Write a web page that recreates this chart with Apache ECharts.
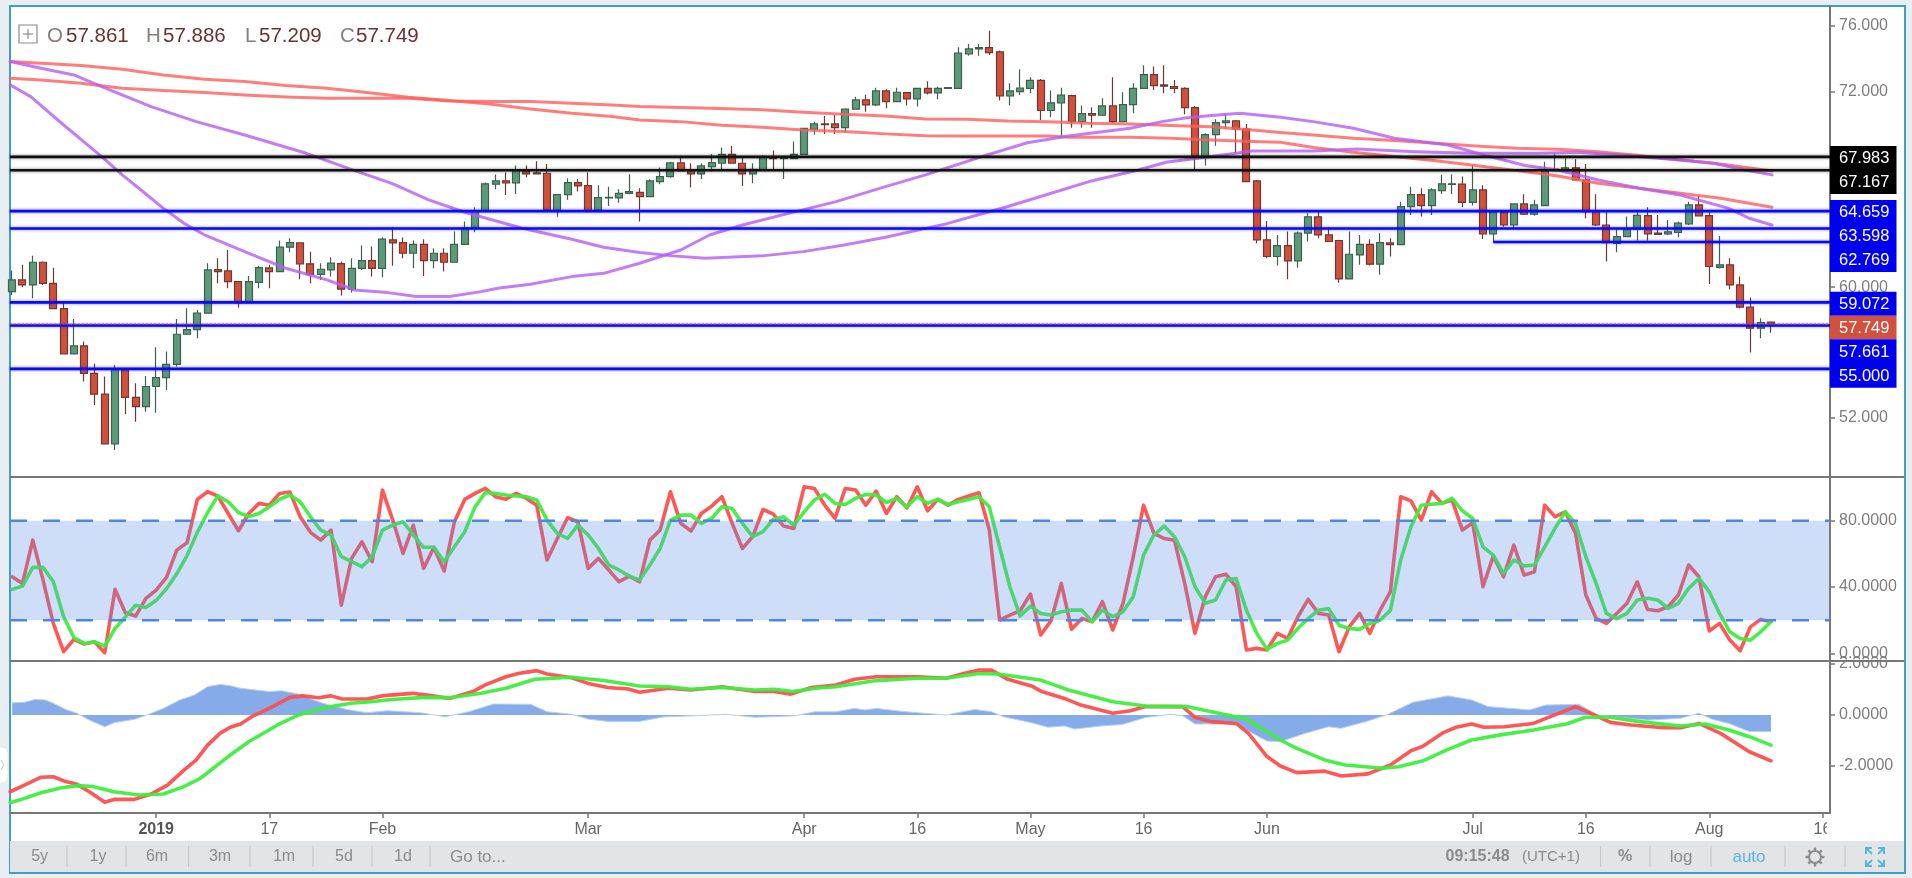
<!DOCTYPE html>
<html>
<head>
<meta charset="utf-8">
<style>html,body{margin:0;padding:0;background:#e9eef2;overflow:hidden}#c{width:1912px;height:878px}</style>
<script src="https://cdn.jsdelivr.net/npm/echarts@6/dist/echarts.min.js"></script>
</head>
<body>
<div id="c"></div>
<script>
const opens=[59.73,60.45,60.14,61.53,60.24,58.69,55.92,56.41,54.73,53.45,
50.41,54.94,53.26,52.69,53.92,54.47,55.28,57.12,57.41,58.41,
61.08,61.0,60.34,59.06,60.3,61.18,60.96,62.45,62.71,61.43,
60.79,61.06,61.45,59.88,61.16,61.63,61.16,62.9,62.73,62.08,
62.63,61.63,62.08,61.53,62.63,63.63,64.65,66.31,66.51,66.39,
67.1,67.0,66.98,64.73,65.67,66.41,66.22,64.73,65.47,65.47,
65.75,65.81,65.55,66.47,66.77,67.61,67.12,66.94,67.39,67.59,
68.14,67.59,66.94,67.18,67.96,67.88,67.88,68.14,69.67,70.0,
70.0,69.77,70.9,71.47,71.16,72.02,71.37,71.92,71.53,72.18,
71.9,72.18,72.18,74.29,74.59,74.67,74.41,71.71,71.98,72.18,
72.67,70.82,71.29,71.73,70.14,70.63,70.53,71.1,70.14,71.18,
72.18,73.02,72.39,72.29,72.18,71.0,68.0,69.35,70.08,70.18,
69.69,66.51,62.9,61.88,62.55,61.61,63.31,64.31,63.2,62.86,
60.51,61.98,62.63,61.41,62.71,62.61,64.94,65.67,65.0,65.92,
66.29,66.31,65.2,65.96,63.27,64.59,63.81,65.1,64.47,65.0,
67.14,67.14,67.31,66.57,64.67,63.81,62.69,63.1,63.55,64.38,
63.31,63.27,63.35,63.88,65.04,64.39,61.22,61.37,60.14,58.78,
57.49,57.861];
const closes=[60.45,60.14,61.53,60.24,58.69,55.92,56.41,54.73,53.45,50.41,
54.98,53.26,52.69,53.92,54.47,55.28,57.12,57.41,58.41,61.06,
60.96,60.34,59.06,60.34,61.2,60.96,62.45,62.73,61.43,60.79,
61.1,61.47,59.88,61.16,61.63,61.16,62.94,62.71,62.08,62.63,
61.63,62.08,61.53,62.63,63.63,64.65,66.33,66.51,66.39,67.16,
66.94,66.94,64.73,65.67,66.41,66.2,64.69,65.49,65.51,65.75,
65.86,65.55,66.51,66.77,67.61,67.12,66.94,67.43,67.63,68.14,
67.59,66.94,67.22,68.0,67.88,67.92,68.14,69.73,70.0,69.96,
69.77,70.9,71.47,71.16,72.02,71.37,71.94,71.53,72.18,71.9,
72.18,72.22,74.33,74.59,74.67,74.37,71.71,72.02,72.2,72.67,
70.82,71.29,71.76,70.14,70.63,70.53,71.1,70.14,71.18,72.18,
73.02,72.35,72.31,72.18,71.0,68.0,69.35,70.08,70.18,69.69,
66.47,62.9,61.88,62.55,61.61,63.31,64.31,63.2,62.8,60.51,
62.02,62.63,61.41,62.73,62.61,64.94,65.67,65.0,65.96,66.33,
66.33,65.2,65.96,63.27,64.59,63.81,65.1,64.47,65.04,67.14,
67.22,67.31,66.57,64.63,63.81,62.73,63.1,63.57,64.4,63.27,
63.24,63.39,63.92,65.04,64.37,61.27,61.37,60.14,58.78,57.49,
57.84,57.749];
const lows=[59.53,60.0,59.32,60.14,58.65,55.92,55.92,54.22,52.79,50.41,
50.04,52.24,51.77,52.38,52.32,53.71,55.14,57.08,56.88,58.41,
60.24,59.94,58.75,59.06,59.94,59.94,60.96,62.14,60.49,60.24,
60.45,60.65,59.49,59.67,61.06,60.65,60.61,61.32,61.77,61.16,
60.69,61.16,60.96,61.53,62.63,63.37,64.59,66.0,65.65,65.71,
66.73,66.94,64.63,64.32,65.35,65.86,64.57,64.63,64.98,65.18,
65.69,64.02,65.55,66.3,66.71,67.08,66.1,66.63,67.08,67.24,
67.59,66.2,66.37,67.18,67.22,66.63,67.88,68.14,69.33,69.39,
69.39,69.47,70.9,70.75,71.1,70.96,71.37,71.12,71.06,71.8,
71.51,72.16,72.18,74.18,74.18,74.22,71.43,71.14,71.77,71.88,
70.24,70.41,69.22,69.77,69.77,69.77,70.49,70.04,70.14,70.65,
72.18,72.08,71.88,71.88,70.59,67.22,67.45,68.67,69.67,68.24,
66.47,62.69,61.77,61.33,60.49,61.2,62.8,63.0,62.8,60.28,
60.51,61.37,61.33,60.76,61.88,62.61,64.43,64.33,64.43,65.71,
65.71,64.9,65.0,62.96,62.8,63.71,63.57,64.43,64.37,65.0,
67.08,67.08,66.53,64.22,63.75,61.57,62.14,63.06,62.86,62.86,
63.24,63.2,63.06,63.81,64.33,60.2,61.14,59.88,58.71,56.0,
56.88,57.209];
const highs=[61.02,61.37,61.92,61.57,61.2,59.12,58.06,56.67,55.31,54.53,
55.24,55.04,54.12,54.57,56.32,56.06,58.06,58.71,58.61,61.47,
61.77,62.28,60.38,60.69,61.32,61.37,62.86,63.0,62.73,62.18,
61.47,61.84,61.57,61.77,62.55,62.49,63.06,63.65,63.04,62.86,
62.94,62.39,62.39,63.41,64.02,64.9,66.41,66.9,67.02,67.45,
67.45,67.71,67.55,65.67,66.67,66.63,67.02,66.24,66.16,66.0,
66.92,66.06,66.61,67.33,67.69,68.0,67.59,67.59,68.16,68.55,
68.65,68.0,67.59,68.1,68.37,68.0,68.92,69.77,70.14,70.49,
70.55,70.96,71.67,71.78,72.22,72.12,72.22,71.92,72.22,72.61,
72.28,72.24,74.69,74.9,74.9,75.71,74.49,72.49,73.35,72.86,
72.75,72.04,72.22,71.78,71.12,71.02,71.57,72.86,71.94,72.49,
73.59,73.51,73.59,72.69,72.24,71.1,69.43,70.29,70.65,70.24,
70.0,66.57,64.06,63.2,63.41,63.41,64.53,64.69,63.65,62.9,
63.41,63.2,62.94,63.31,63.0,65.24,66.16,66.06,66.06,66.88,
66.92,66.78,67.49,66.24,64.69,64.73,65.1,65.69,65.35,67.69,
68.2,67.9,67.84,67.55,65.69,64.73,63.61,64.33,64.73,64.9,
64.43,64.12,64.02,65.24,65.59,64.73,63.14,61.77,60.65,59.37,
58.1,57.886];

const rsiFast=[46.2,42.2,68.3,44.2,18.1,1,8.4,5.6,7,0.4,38.6,24.5,22.5,33.2,38.2,45.8,62.3,66.7,92.9,97.5,
94.9,84.4,74,84.4,90.5,89.4,96.5,97.3,82.4,73,68.3,74.4,29.1,57.3,67.3,55.3,98.5,80.4,60.3,77.4,
51.3,63.9,49.6,79.4,92.9,96.5,99.5,94.5,93,96.5,93.5,89.4,56.3,69.3,81.8,79.4,51.3,57.3,50.3,43.2,
46.6,43.2,68.3,74.4,97.5,78.4,73.8,84.4,88.8,94.5,78.4,63.3,70.4,86.8,84,76.8,75.4,100.5,99.5,89.4,
81.4,99.5,98.5,89.4,97.9,84.4,94.5,87.8,100.5,86,92.9,89.4,92.9,94.9,96.9,74.4,20.1,23.1,25.7,35.8,
11.1,19.7,42.2,14.5,21.1,19.1,31.2,14.1,30.2,58.3,89.4,72.4,69.3,68.3,42.2,12.1,34.2,46.2,47.8,40.2,
2,3,2,12,9,22,32.6,24.1,23.1,1,16,24.1,12.1,26.1,37.2,94.5,92,80.4,97.5,90.5,
92.5,74.4,78.8,40.2,58.7,46.2,65.3,47.2,49.2,89.4,82.4,85.4,72.4,35.2,21.1,18.1,24.1,30.2,43.2,26.5,
25.7,28.1,35.2,53.3,46.2,13.5,18.1,8,1.6,16,20.5,19.1];
const rsiSlow=[38.6,40.6,51.9,51.9,43.2,22.1,9.6,6,7,4.4,15,22,29,27.7,32,39,48,59,73,85,
95,91.5,85,82.5,84.4,88.4,93,95.5,91.5,82.4,74.4,71.4,58.3,55.3,52.3,58.3,74.4,77.4,79.4,71.4,
64,64,55.3,64.3,73.4,88.4,97,96.5,95.5,95,94.5,92.5,80.4,72.4,69.3,77.4,71.4,63.3,53.3,50.3,
46.6,44.2,53.3,63.3,80.4,83.4,83.4,78.4,81.4,88.4,87.4,78.4,70.4,73.4,80.8,82.4,77.4,85.4,92.5,96,
90.5,89.8,93.5,95.9,95.5,91,93.5,88.4,94.5,90.5,92.9,89.8,91.5,92.9,94.5,88.4,64.3,40.2,22.5,28.5,
24.1,23.1,25.1,26.1,26.1,19.1,26.1,22.1,25.1,34.2,59.3,71.4,76.8,70.4,58.3,40.2,30.2,32.2,44.2,45.2,
26.1,12.1,2.4,6,8,15,21,26,27,17,15,14.5,18,20,26,56.3,76.4,89.4,90,90.5,
93.5,86,81.4,64.3,59.3,48.2,56.3,52.7,53.3,64.3,75.4,85.4,78.4,58.3,42.2,24.1,21,24.1,32.2,33.2,
32.2,27.1,30.2,39.2,45.2,37.2,24.1,13,9,8,13,19.1];

const macdFast=[[-0.2,-3.01],[1.2,-2.75],[2.8,-2.44],[4,-2.42],[5.2,-2.61],[6.3,-2.72],[7.5,-3.01],[9,-3.42],[9.9,-3.31],[11.9,-3.31],[13.5,-3.10],[15.1,-2.75],[16.7,-2.16],[17.9,-1.76],[19,-1.18],[20.2,-0.72],[21.2,-0.48],[22.2,-0.35],[23.4,-0.04],[25,0.26],[27,0.69],[28.2,0.75],[29.8,0.68],[31,0.75],[32.1,0.63],[34.5,0.63],[36.1,0.76],[38.9,0.85],[40.9,0.75],[42.5,0.65],[44.8,0.92],[46,1.18],[48,1.5],[49.2,1.63],[51,1.74],[52,1.61],[54.4,1.46],[56,1.24],[57.9,1.08],[59.9,1.02],[61,0.89],
[63.8,1.05],[66,0.98],[69,1.11],[72.2,0.92],[74.1,0.92],[75.7,0.82],[77.7,1.08],[80.1,1.18],[81.9,1.40],[84,1.50],[88,1.50],[90.8,1.44],[92.8,1.66],[94,1.76],[95.2,1.76],[96.8,1.40],[99.1,1.14],[100.1,0.92],[102.3,0.65],[103.9,0.39],[107,0.07],[108.7,0.17],[110.2,0.33],[113.8,0.33],[115,-0.09],[116.6,-0.26],[119,-0.33],[120.2,-0.72],[122,-1.63],[123.3,-2.0],
[124.9,-2.26],[127.6,-2.2],[129.2,-2.39],[131.8,-2.31],[134,-1.96],[136,-1.40],[137.2,-1.22],[139.2,-0.68],[140.4,-0.48],[141.9,-0.35],[143.1,-0.48],[145.1,-0.46],[147.9,-0.33],[152,0.33],[155.4,-0.29],[157.4,-0.39],[160.6,-0.50],[162.2,-0.50],[164,-0.33],[166.1,-0.72],[168.9,-1.44],[171,-1.80]];
const macdSlow=[[-0.2,-3.44],[1.2,-3.27],[2.8,-3.05],[4.8,-2.85],[6.3,-2.77],[7.9,-2.81],[9.9,-3.01],[12.3,-3.14],[14.7,-3.10],[16.7,-2.81],[18.3,-2.48],[21,-1.63],[23,-1.05],[25.8,-0.39],[27.8,0],[30.6,0.30],[32.9,0.46],[34.9,0.52],[36.9,0.61],[40.1,0.69],[42.5,0.68],[45.6,0.85],[48,1.05],[50.8,1.40],[54.4,1.48],[57.5,1.35],[61,1.14],
[63.8,1.11],[66,1.01],[69,1.08],[72.2,0.98],[74.1,1.01],[75.9,0.92],[78.1,1.05],[80.1,1.11],[84,1.35],[88,1.44],[90.8,1.44],[94,1.63],[95.8,1.61],[100,1.37],[102.7,0.98],[107,0.52],[110.2,0.35],[114.2,0.33],[116.6,0.13],[120,-0.16],[123.3,-0.98],
[124.9,-1.31],[127.6,-1.76],[129.6,-1.96],[133.2,-2.09],[134.8,-2.03],[137.2,-1.79],[139.6,-1.35],[141.9,-0.98],[144.7,-0.78],[147.9,-0.59],[151.1,-0.35],[153,-0.09],[155.4,-0.09],[158.2,-0.26],[162.2,-0.43],[164.6,-0.35],[166.9,-0.59],[168.9,-0.85],[171,-1.18]];
const macdHist=[[0,0.48],[1.2,0.50],[2.2,0.61],[3.2,0.59],[4,0.46],[5.2,0.22],[6.3,0.07],[7.5,-0.20],[9,-0.46],[9.9,-0.30],[11.9,-0.17],[13.1,0],[14.7,0.26],[16.3,0.59],[17.7,0.78],[19,1.11],[20.2,1.20],[21.2,1.15],[22.2,1.05],[25,0.92],[26.2,0.95],[27.8,0.82],[30.2,0.46],[32.5,0.22],[34.5,0.09],[36.5,0.17],[39.7,0.09],[42.1,-0.07],[44.4,0.13],[46.8,0.43],[50.4,0.42],[52,0.13],[54.4,0.03],[56,-0.16],[57.9,-0.25],[61,-0.25],
[63.4,-0.07],[66.2,-0.03],[69.4,0.03],[72.2,-0.09],[76.1,-0.03],[78.1,0.13],[80.1,0.13],[81.9,0.26],[82.9,0.20],[84,0.26],[86.8,0.13],[90.8,0],[93.6,0.22],[95.2,0.13],[96.4,-0.07],[99.1,-0.30],[100.7,-0.48],[102.3,-0.43],[103.3,-0.55],[105.9,-0.43],[107.9,-0.37],[110.2,-0.10],[112.6,0.03],[113.8,-0.03],[115,-0.35],[119,-0.35],[120.6,-0.72],[122,-1.02],[123.3,-1.05],
[125.7,-0.72],[128,-0.46],[129.2,-0.52],[131.6,-0.26],[133.6,0],[136.2,0.50],[139.6,0.75],[141.9,0.59],[143.5,0.33],[146.3,0.24],[147.5,0.20],[149.1,0.39],[152.3,0.42],[154.2,0],[159,-0.20],[162.2,-0.13],[164,0.07],[165.3,-0.17],[166.9,-0.33],[168.9,-0.65],[171,-0.65]];

const redMaA=[[-0.2,73.82],[2.8,73.71],[6.7,73.57],[10.7,73.35],[14.7,73.0],[18.7,72.73],[22.6,72.59],[26.6,72.35],[30.6,72.18],[34.5,71.92],[38.5,71.63],[42.5,71.43],[46.4,71.22],[50.4,70.92],[54.4,70.65],[58.3,70.45],[61,70.24],[65,70.14],[69,69.92],[72.9,69.79],[76.9,69.63],[80.9,69.53],[84.9,69.39],[88.8,69.28],[92.8,69.26],[96.8,69.26],[100.7,69.26],[102.7,69.18],[108.7,69.18],[112.6,69.12],[116.6,69.02],[120.6,68.92],[123.3,68.88],[126.5,68.55],[130.4,68.26],[134.4,68.0],[138.4,67.75],[142.3,67.45],[146.3,67.14],[150.3,66.81],[154.2,66.37],[158.2,66.06],[162.2,65.75],[166.1,65.45],[171.1,64.9]];
const redMaB=[[-0.2,72.79],[2.8,72.69],[6.7,72.49],[10.7,72.18],[14.7,72.04],[18.7,71.92],[22.6,71.77],[26.6,71.65],[30.6,71.57],[34.5,71.57],[38.5,71.57],[42.5,71.41],[46.4,71.37],[50.4,71.37],[54.4,71.26],[58.3,71.16],[61,71.06],[67,70.98],[72.9,70.86],[76.9,70.71],[80.9,70.59],[84.9,70.49],[88.8,70.3],[92.8,70.28],[96.8,70.18],[100.7,70.14],[104.7,70.04],[108.7,70.0],[112.6,69.9],[116.6,69.83],[120.6,69.63],[123.3,69.47],[126.5,69.32],[130.4,69.12],[134.4,68.98],[138.4,68.81],[142.3,68.65],[146.3,68.51],[150.3,68.45],[154.2,68.3],[158.2,68.06],[162.2,67.79],[166.1,67.55],[171.1,67.12]];
const purpleMaA=[[-0.2,72.39],[1.8,71.67],[4.8,70.04],[8.7,68.0],[10.7,66.88],[12.7,65.86],[14.7,64.83],[16.7,63.92],[18.7,63.2],[22.6,62.18],[26.6,61.16],[30.6,60.45],[33.3,59.83],[36.5,59.67],[39.3,59.43],[42.5,59.43],[45.6,59.73],[47.2,59.94],[50.4,60.18],[54.4,60.65],[57.5,60.85],[61,61.47],[65,62.28],[67.8,63.2],[71,63.81],[74.9,64.43],[80.1,65.24],[84.9,66.16],[88.8,66.88],[94.8,68.1],[98.7,68.85],[102.7,69.26],[108.7,69.73],[111.8,70.14],[113.8,70.34],[116.6,70.51],[119.4,70.65],[123.3,70.41],[126.5,70.14],[130.4,69.73],[134.4,69.12],[139.6,68.71],[143.1,68.1],[147.1,67.45],[150.3,67.18],[154.2,66.57],[158.2,66.06],[162.2,65.65],[166.9,64.83],[168.9,64.22],[171.1,63.81]];
const purpleMaB=[[-0.2,73.82],[2.8,73.41],[6,73.0],[8.7,72.28],[13.5,71.06],[17.9,70.14],[22.6,69.32],[28.6,68.2],[33.3,67.14],[36.9,66.36],[40.5,65.35],[44,64.59],[49.6,63.61],[54.4,62.94],[57.5,62.45],[61,62.12],[64.2,61.92],[67.4,61.77],[72.9,61.92],[76.9,62.18],[80.9,62.59],[84.9,63.06],[90.8,63.88],[96.8,64.94],[100.7,65.69],[104.7,66.47],[109.5,67.18],[112.2,67.65],[116.6,68.0],[120.6,68.34],[123.3,68.34],[126.5,68.34],[130.8,68.47],[136.4,68.3],[142.3,68.2],[148.3,68.2],[152.2,68.26],[156.2,68.1],[162.2,67.79],[165.4,67.59],[168.5,67.18],[171.1,66.88]];

const blackLevels=[67.983,67.167];
const blueLevels=[64.659,63.598,59.072,57.661,55];
const shortLevel=62.769;
const shortLevelStart=144;
const lastClose=57.749;
const rsiBand=[20,80];

const tickIndex=[14,25,36,56,77,88,99,110,122,142,153,165,176];
const tickLabels=['2019','17','Feb','Mar','Apr','16','May','16','Jun','Jul','16','Aug','16'];
const priceTicks=[76,72,60,52];
const rsiTicks=[80,40,0];
const macdTicks=[2,0,-2];

const XMIN=-0.214, XMAX=176.74;
const FONT='"Liberation Sans", Arial, sans-serif';
const AX='#777';

const candleData=opens.map((o,i)=>[i,o,closes[i],lows[i],highs[i]]);
const idx=a=>a.map((v,i)=>[i,v]);

function lineS(data,grid,color,width,z,opacity){
  return {type:'line',xAxisIndex:grid,yAxisIndex:grid,data,showSymbol:false,symbol:'none',smooth:false,
    silent:true,animation:false,z:z,lineStyle:{color,width,opacity:opacity==null?1:opacity,cap:'round',join:'round'}};
}
function levelS(v,color,shadow,start){
  const s=lineS([[start==null?XMIN:start,v],[XMAX,v]],0,color,2.6,6);
  s.lineStyle.shadowColor=shadow; s.lineStyle.shadowBlur=3; s.lineStyle.cap='butt';
  return s;
}

const series=[];
series.push({type:'candlestick',xAxisIndex:0,yAxisIndex:0,data:candleData,barWidth:7.5,silent:true,animation:false,z:2,clip:true,
  itemStyle:{color:'#5c9a7a',color0:'#d0503c',borderColor:'#3f5f4f',borderColor0:'#6a3a34',borderWidth:1.2}});
series.push(lineS(redMaA,0,'#ff5c5c',3,4,0.8));
series.push(lineS(redMaB,0,'#ff5c5c',3,4,0.8));
series.push(lineS(purpleMaA,0,'#b45cf5',3,4,0.8));
series.push(lineS(purpleMaB,0,'#b45cf5',3,4,0.8));
blackLevels.forEach(v=>series.push(levelS(v,'#111111','rgba(0,0,0,0.55)')));
blueLevels.forEach(v=>series.push(levelS(v,'#0a0af5','rgba(0,0,255,0.55)')));
series.push(levelS(shortLevel,'#0a0af5','rgba(0,0,255,0.55)',shortLevelStart));
const lastS=lineS([[XMIN,lastClose],[XMAX,lastClose]],0,'#d0503c',1,7);
lastS.lineStyle.type=[2,2];
series.push(lastS);

// RSI pane
series.push(lineS(idx(rsiFast),1,'#ff4d4d',3.6,3,0.95));
series.push(lineS(idx(rsiSlow),1,'#3fee3f',3.6,4,0.95));
const band=lineS([[XMIN,rsiBand[1]],[XMAX,rsiBand[1]]],1,'#5b8fe8',0,8);
band.lineStyle.opacity=0;
band.areaStyle={origin:rsiBand[0],color:'rgba(90,140,230,0.29)',opacity:1};
series.push(band);
rsiBand.forEach(v=>{
  const s=lineS([[XMIN,v],[XMAX,v]],1,'#4f86e6',2.6,9);
  s.lineStyle.type=[17,16]; s.lineStyle.cap='butt';
  series.push(s);
});

// MACD pane
const hist=lineS(macdHist,2,'#bcd0f2',1,2);
hist.areaStyle={origin:0,color:'#85ace9',opacity:1};
series.push(hist);
series.push(lineS(macdFast,2,'#ff4d4d',3.6,4,0.95));
series.push(lineS(macdSlow,2,'#3fee3f',3.6,5,0.95));

// Decoration
const TXT='#8b8b8b';
const g=[];
const text=(x,y,t,fill,size,align,z,weight)=>g.push({type:'text',x,y,z:z||60,silent:true,
  style:{text:t,fill,font:(weight?weight+' ':'')+size+'px '+FONT,align:align||'left',verticalAlign:'middle'}});
const rect=(x,y,w,h,fill,z,stroke,lw,r)=>g.push({type:'rect',z:z,silent:true,shape:{x,y,width:w,height:h,r:r||0},style:{fill,stroke:stroke||null,lineWidth:lw||0}});
const line=(x1,y1,x2,y2,c,w,z)=>g.push({type:'line',z:z||60,silent:true,shape:{x1,y1,x2,y2},style:{stroke:c,lineWidth:w}});

rect(10,6,1895,867,'#ffffff',-5,'#3f9fca',2);
rect(10,841,1894,31,'#e3e4e6',-4);
rect(-6,747,14,36,'#ffffff',-4,'#e2e6ea',1,6);
g.push({type:'polyline',z:-3,silent:true,shape:{points:[[1,760],[4,765],[1,770]]},style:{stroke:'#b9c2c9',lineWidth:1,fill:null}});

// separators and clipped labels
rect(1832,659.5,70,1.5,'#ffffff',55);
rect(1827,815,75,26,'#ffffff',55);
line(10,477,1904,477,AX,2,56);
line(10,661,1904,661,AX,2,56);

// header
rect(19,25,18,18,'#ffffff',60,'#8c8c8c',1.2);
line(28,29,28,39,'#8c8c8c',1.2);
line(23,34,33,34,'#8c8c8c',1.2);
const HL='#8a7c7c', HV='#6d2f2f';
[[47,'O',66,'57.861'],[146,'H',163,'57.886'],[245,'L',259,'57.209'],[340,'C',356,'57.749']].forEach(r=>{
  text(r[0],36,r[1],HL,20.5); text(r[2],36,r[3],HV,20.5);
});

// price blocks
const blocks=[[146,48,'#000000'],[200,72,'#0000f0'],[291.7,24,'#0000f0'],[315.7,23.6,'#d0513f'],[339.3,48.4,'#0000f0']];
blocks.forEach(b=>rect(1830,b[0],66.5,b[1],b[2],57));
[[158,'67.983'],[182.7,'67.167'],[212,'64.659'],[236.7,'63.598'],[260.7,'62.769'],[304,'59.072'],[328,'57.749'],[352,'57.661'],[376,'55.000']]
  .forEach(r=>text(1839,r[0],r[1],'#ffffff',16.5,'left',58));

// toolbar
const by=857;
[[39.6,'5y'],[98,'1y'],[157,'6m'],[220,'3m'],[284,'1m'],[344,'5d'],[403,'1d']].forEach(r=>text(r[0],by,r[1],TXT,16,'center'));
text(450,by,'Go to...',TXT,17);
[67,126,188.6,250,313,372,430,1600.6,1650,1711,1785,1845].forEach(x=>line(x,846,x,867,'#c4c5c8',1));
text(1445.5,by,'09:15:48',TXT,16,'left',60,'bold');
text(1522,by,'(UTC+1)',TXT,15);
text(1625,by,'%',TXT,16,'center',60,'bold');
text(1681,by,'log',TXT,17,'center');
text(1749,by,'auto','#55b7e0',17,'center');
// settings wheel
g.push({type:'circle',z:60,silent:true,shape:{cx:1815,cy:by,r:6},style:{fill:null,stroke:'#8b8b8b',lineWidth:2}});
for(let a=0;a<8;a++){const t=a*Math.PI/4;line(1815+6*Math.cos(t),by+6*Math.sin(t),1815+9.5*Math.cos(t),by+9.5*Math.sin(t),'#8b8b8b',2.4);}
// full screen mark
[[-1,-1],[1,-1],[-1,1],[1,1]].forEach(d=>{
  const cx=1875,c='#55b7e0',a=9;
  g.push({type:'polyline',z:60,silent:true,shape:{points:[[cx+d[0]*a,by+d[1]*(a-6)],[cx+d[0]*a,by+d[1]*a],[cx+d[0]*(a-6),by+d[1]*a]]},style:{stroke:c,lineWidth:2,fill:null}});
  line(cx+d[0]*a,by+d[1]*a,cx+d[0]*3,by+d[1]*3,c,2);
});

const grids=[{left:10,width:1820,top:6,height:471},{left:10,width:1820,top:477,height:184},{left:10,width:1820,top:661,height:152}];
const xBase={type:'value',min:XMIN,max:XMAX,splitLine:{show:false},axisLine:{show:false},axisTick:{show:false},axisLabel:{show:false}};
const labelMap=new Map(tickIndex.map((t,i)=>[t,tickLabels[i]]));
const yAxisFor=(grid,min,max,ticks,dec)=>({type:'value',gridIndex:grid,position:'right',min,max,scale:true,splitLine:{show:false},
  axisLine:{show:true,onZero:false,lineStyle:{color:AX,width:2}},
  axisTick:{show:true,length:5,customValues:ticks,lineStyle:{color:AX,width:1.5}},
  axisLabel:{show:true,customValues:ticks,margin:9,align:'left',color:'#7d7d7d',fontFamily:FONT,fontSize:16,showMinLabel:true,showMaxLabel:true,hideOverlap:false,
    formatter:v=>Number(v).toFixed(dec)}});

const chart=echarts.init(document.getElementById('c'),null,{renderer:'canvas',width:1912,height:878});
chart.setOption({
  animation:false,backgroundColor:'transparent',
  grid:grids,
  xAxis:[Object.assign({},xBase,{gridIndex:0}),Object.assign({},xBase,{gridIndex:1}),
    Object.assign({},xBase,{gridIndex:2,
      axisLine:{show:true,onZero:false,lineStyle:{color:AX,width:2}},
      axisTick:{show:true,length:5,customValues:tickIndex,lineStyle:{color:AX,width:1.5}},
      axisLabel:{show:true,customValues:tickIndex,margin:9,color:'#666',fontFamily:FONT,fontSize:16,hideOverlap:false,showMinLabel:true,showMaxLabel:true,
        formatter:v=>{const t=labelMap.get(Math.round(v));return t==='2019'?'{b|2019}':t;},
        rich:{b:{fontWeight:'bold',color:'#555',fontFamily:FONT,fontSize:16}}}})],
  yAxis:[yAxisFor(0,48.38,77.22,priceTicks,3),yAxisFor(1,-4.6,106.4,rsiTicks,4),yAxisFor(2,-3.843,2.118,macdTicks,4)],
  series,
  graphic:{elements:g}
});
</script>
</body>
</html>
